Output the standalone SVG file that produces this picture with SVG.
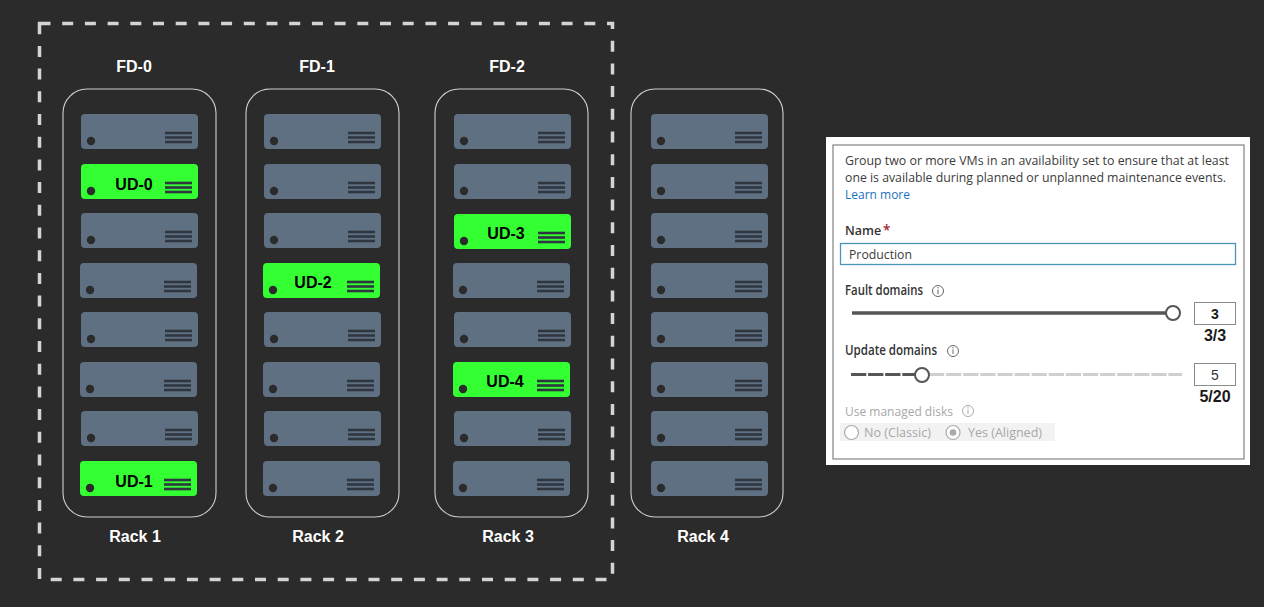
<svg xmlns="http://www.w3.org/2000/svg" width="1264" height="607" viewBox="0 0 1264 607">
<defs>
<style>
.bg{fill:#2b2b2b}
.rack{fill:none;stroke:#cfcfcf;stroke-width:1.1}
.srv{fill:#5f7082}
.ud{fill:#33ff33}
.dot{fill:#2b2b2b}
.ln{stroke:#2f3640;stroke-width:2.6}
.lbl{font-family:"Liberation Sans",Arial,sans-serif;font-weight:bold;font-size:16px;fill:#ffffff;text-anchor:middle}
.udt{font-family:"Liberation Sans",Arial,sans-serif;font-weight:bold;font-size:16px;fill:#000;text-anchor:middle}
.pt{font-family:"Open Sans","Noto Sans",sans-serif;font-size:13.5px;fill:#3b3b3b}
.ph{font-family:"Open Sans","Noto Sans",sans-serif;font-size:13.5px;font-weight:600;fill:#333}
.dis{font-family:"Open Sans","Noto Sans",sans-serif;font-size:13.5px;fill:#a8a8a8}
.info{fill:none;stroke:#666;stroke-width:1}
.num{font-family:"Liberation Sans",Arial,sans-serif;font-weight:bold;font-size:16px;fill:#1a1a1a;text-anchor:middle}
</style>
<g id="server">
<rect x="0" y="0" width="117" height="35" rx="4" class="srv"/>
<circle cx="10" cy="27" r="4.2" class="dot"/>
<line x1="84" y1="19" x2="111" y2="19" class="ln"/>
<line x1="84" y1="23.5" x2="111" y2="23.5" class="ln"/>
<line x1="84" y1="28" x2="111" y2="28" class="ln"/>
</g>
<g id="userver">
<rect x="0" y="0" width="117" height="35" rx="4" class="ud"/>
<circle cx="10" cy="27" r="4.2" class="dot"/>
<line x1="84" y1="19" x2="111" y2="19" class="ln"/>
<line x1="84" y1="23.5" x2="111" y2="23.5" class="ln"/>
<line x1="84" y1="28" x2="111" y2="28" class="ln"/>
</g>
</defs>
<rect x="0" y="0" width="1264" height="607" class="bg"/>

<g id="availability-set">
<rect x="39.5" y="23.5" width="573" height="556" fill="none" stroke="#d4d4d4" stroke-width="3.5" stroke-dasharray="11 11.7"/>
</g>

<g id="fd-labels">
<text x="134" y="72" class="lbl">FD-0</text>
<text x="317" y="72" class="lbl">FD-1</text>
<text x="507" y="72" class="lbl">FD-2</text>
</g>

<g id="rack1">
<rect x="63" y="89" width="153" height="428" rx="24" class="rack"/>
<use href="#server" x="81" y="114"/>
<use href="#userver" x="81" y="164"/>
<use href="#server" x="81" y="213"/>
<use href="#server" x="80" y="263"/>
<use href="#server" x="81" y="312"/>
<use href="#server" x="80" y="362"/>
<use href="#server" x="81" y="411"/>
<use href="#userver" x="80" y="461"/>
<text x="134" y="190" class="udt">UD-0</text>
<text x="134" y="487" class="udt">UD-1</text>
<text x="135" y="542" class="lbl">Rack 1</text>
</g>

<g id="rack2">
<rect x="246" y="89" width="153" height="428" rx="24" class="rack"/>
<use href="#server" x="264" y="114"/>
<use href="#server" x="264" y="164"/>
<use href="#server" x="264" y="213"/>
<use href="#userver" x="263" y="263"/>
<use href="#server" x="264" y="312"/>
<use href="#server" x="263" y="362"/>
<use href="#server" x="264" y="411"/>
<use href="#server" x="263" y="461"/>
<text x="313" y="288" class="udt">UD-2</text>
<text x="318" y="542" class="lbl">Rack 2</text>
</g>

<g id="rack3">
<rect x="435" y="89" width="153" height="428" rx="24" class="rack"/>
<use href="#server" x="454" y="114"/>
<use href="#server" x="454" y="164"/>
<use href="#userver" x="454" y="214"/>
<use href="#server" x="453" y="263"/>
<use href="#server" x="454" y="312"/>
<use href="#userver" x="453" y="362"/>
<use href="#server" x="454" y="411"/>
<use href="#server" x="453" y="461"/>
<text x="506" y="239" class="udt">UD-3</text>
<text x="505" y="387" class="udt">UD-4</text>
<text x="508" y="542" class="lbl">Rack 3</text>
</g>

<g id="rack4">
<rect x="631" y="89" width="152" height="428" rx="24" class="rack"/>
<use href="#server" x="651" y="114"/>
<use href="#server" x="651" y="164"/>
<use href="#server" x="651" y="213"/>
<use href="#server" x="651" y="263"/>
<use href="#server" x="651" y="312"/>
<use href="#server" x="651" y="362"/>
<use href="#server" x="651" y="411"/>
<use href="#server" x="651" y="461"/>
<text x="703" y="542" class="lbl">Rack 4</text>
</g>

<g id="settings-panel">
<rect x="826" y="137" width="424" height="328" fill="#ffffff"/>
<rect x="833" y="145" width="411" height="314" fill="#ffffff" stroke="#8c8c8c" stroke-width="1.3"/>
<text x="845" y="165" class="pt" textLength="384" lengthAdjust="spacingAndGlyphs">Group two or more VMs in an availability set to ensure that at least</text>
<text x="845" y="182" class="pt" textLength="381" lengthAdjust="spacingAndGlyphs">one is available during planned or unplanned maintenance events.</text>
<text x="845" y="199" class="pt" style="fill:#1a73c0" textLength="65" lengthAdjust="spacingAndGlyphs">Learn more</text>
<text x="845" y="235" class="ph" style="font-size:12.5px">Name</text>
<text x="883" y="235" class="ph" style="fill:#a4262c">*</text>
<rect x="840.5" y="243.5" width="395" height="21" fill="#fff" stroke="#4a95b5" stroke-width="1.3"/>
<text x="849" y="258.5" class="pt" textLength="63" lengthAdjust="spacingAndGlyphs">Production</text>

<text x="845" y="295" class="ph" textLength="78" lengthAdjust="spacingAndGlyphs">Fault domains</text>
<circle cx="938" cy="291" r="5.5" class="info"/>
<line x1="938" y1="289.5" x2="938" y2="294" stroke="#666" stroke-width="1"/>
<circle cx="938" cy="287.8" r="0.7" fill="#666"/>
<line x1="852" y1="313" x2="1166" y2="313" stroke="#555" stroke-width="3.5"/>
<circle cx="1173" cy="313" r="7" fill="#fff" stroke="#555" stroke-width="2"/>
<rect x="1194.5" y="302.5" width="41" height="22" fill="#fff" stroke="#8a8a8a" stroke-width="1"/>
<text x="1215" y="319" class="num" style="font-size:14px">3</text>
<text x="1215" y="341" class="num">3/3</text>

<text x="845" y="355" class="ph" textLength="92" lengthAdjust="spacingAndGlyphs">Update domains</text>
<circle cx="953" cy="351" r="5.5" class="info"/>
<line x1="953" y1="349.5" x2="953" y2="354" stroke="#666" stroke-width="1"/>
<circle cx="953" cy="347.8" r="0.7" fill="#666"/>
<line x1="851" y1="374.5" x2="916" y2="374.5" stroke="#555" stroke-width="3.2" stroke-dasharray="15.3 1.8"/>
<line x1="929" y1="374.5" x2="1182" y2="374.5" stroke="#cfcfcf" stroke-width="3.2" stroke-dasharray="15.3 1.8"/>
<circle cx="922" cy="375" r="7" fill="#fff" stroke="#555" stroke-width="2"/>
<rect x="1194.5" y="363.5" width="41" height="22" fill="#fff" stroke="#8a8a8a" stroke-width="1"/>
<text x="1215" y="380" style="font-family:'Liberation Sans',Arial,sans-serif;font-size:14px;fill:#333;text-anchor:middle">5</text>
<text x="1215" y="402" class="num">5/20</text>

<text x="845" y="416" class="dis" textLength="108" lengthAdjust="spacingAndGlyphs">Use managed disks</text>
<circle cx="968" cy="411" r="5.5" fill="none" stroke="#aaa" stroke-width="1"/>
<line x1="968" y1="409.5" x2="968" y2="414" stroke="#aaa" stroke-width="1"/>
<circle cx="968" cy="407.8" r="0.7" fill="#aaa"/>
<rect x="840" y="423" width="215" height="18" fill="#f2f2f2"/>
<circle cx="851.5" cy="432.5" r="7" fill="#fff" stroke="#aaa" stroke-width="1.2"/>
<text x="864" y="437" class="dis" textLength="67" lengthAdjust="spacingAndGlyphs">No (Classic)</text>
<circle cx="953" cy="432.5" r="7" fill="#fff" stroke="#aaa" stroke-width="1.2"/>
<circle cx="953" cy="432.5" r="3.3" fill="#aaa"/>
<text x="968" y="437" class="dis" textLength="74" lengthAdjust="spacingAndGlyphs">Yes (Aligned)</text>
</g>
</svg>
